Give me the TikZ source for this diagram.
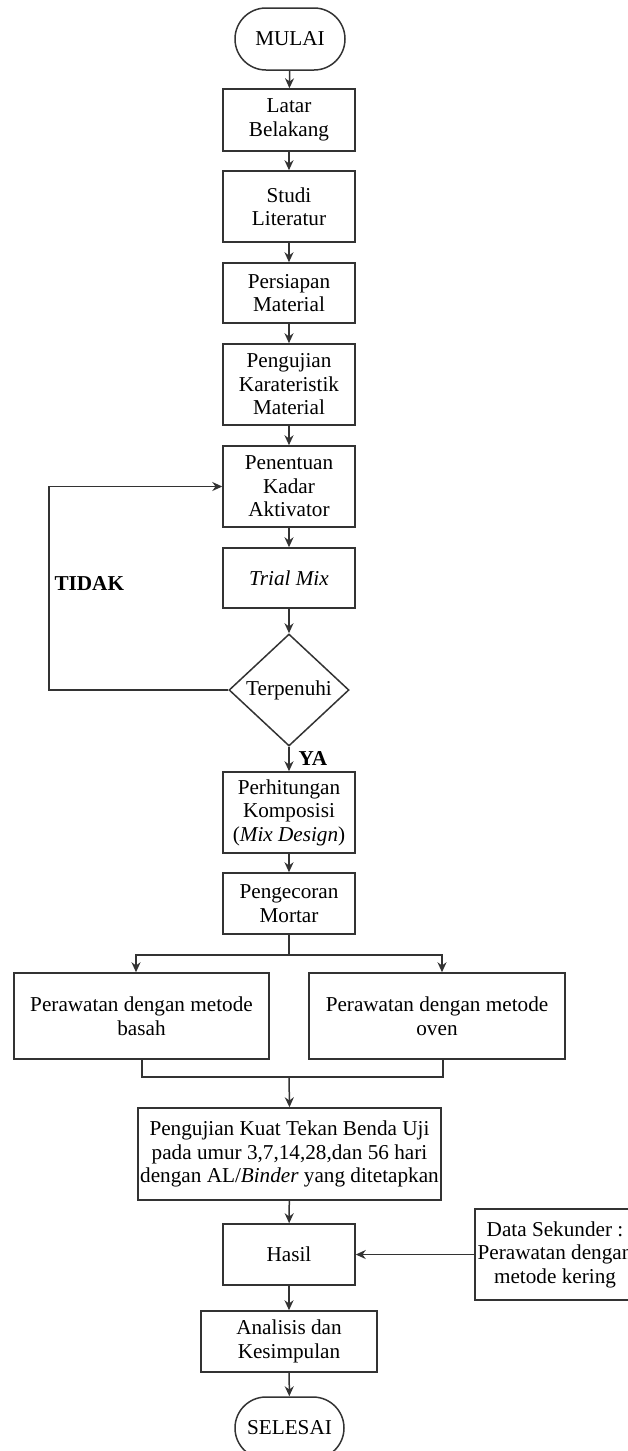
\documentclass[tikz,border=0pt]{standalone}
\usepackage{fontspec}
\setmainfont{Liberation Serif}
\usetikzlibrary{shapes.geometric,shapes.misc,arrows.meta}
\begin{document}
\begin{tikzpicture}[x=1pt,y=-1pt,
  every node/.style={font=\fontsize{21.2}{23.5}\selectfont, text=black},
  line/.style={draw=black!80, line width=1.5pt},
  arr/.style={line, -{Stealth[length=10pt,width=9pt]}},
  box/.style={line, rectangle, align=center, inner sep=0pt, minimum width=132pt},
  term/.style={line, rounded rectangle, inner sep=0pt, minimum width=110pt, minimum height=62pt},
  dec/.style={line, diamond, inner sep=0pt, minimum width=120pt, minimum height=112pt},
  lab/.style={font=\fontsize{21.2}{23.5}\selectfont\bfseries}
]
\useasboundingbox (0,0) rectangle (628,1451);

\node[term] (mulai) at (290,39) {MULAI};
\node[box, minimum height=62pt] (latar) at (289,120) {Latar\\Belakang};
\node[box, minimum height=71pt] (studi) at (289,206.5) {Studi\\Literatur};
\node[box, minimum height=60pt] (persiapan) at (289,293) {Persiapan\\Material};
\node[box, minimum height=81pt] (pengk) at (289,384.5) {Pengujian\\Karateristik\\Material};
\node[box, minimum height=81pt] (penentuan) at (289,486.5) {Penentuan\\Kadar\\Aktivator};
\node[box, minimum height=60pt] (trial) at (289,578) {\textit{Trial Mix}};
\node[dec] (terpenuhi) at (289,690) {Terpenuhi};
\node[box, minimum height=81pt] (perhitungan) at (289,812.5) {Perhitungan\\Komposisi\\(\textit{Mix Design})};
\node[box, minimum height=61pt] (pengecoran) at (289,903.5) {Pengecoran\\Mortar};
\node[box, minimum width=255pt, minimum height=86pt] (basah) at (141.5,1016) {Perawatan dengan metode\\basah};
\node[box, minimum width=256pt, minimum height=86pt] (oven) at (437,1016) {Perawatan dengan metode\\oven};
\node[box, minimum width=303pt, minimum height=92pt] (uji) at (289.5,1154) {Pengujian Kuat Tekan Benda Uji\\pada umur 3,7,14,28,dan 56 hari\\dengan AL/\textit{Binder} yang ditetapkan};
\node[box, minimum height=61pt] (hasil) at (289,1254.5) {Hasil};
\node[box, minimum width=160pt, minimum height=91pt] (data) at (555,1254.5) {Data Sekunder :\\Perawatan dengan\\metode kering};
\node[box, minimum width=176pt, minimum height=61pt] (analisis) at (289,1341.5) {Analisis dan\\Kesimpulan};
\node[term, minimum width=109pt] (selesai) at (289.5,1428) {SELESAI};

\node[lab, anchor=west] (tidak) at (51,584) {TIDAK};
\node[lab, anchor=west] (ya) at (295,758) {YA};

\coordinate (loopA) at (49,690);
\coordinate (loopB) at (49,486.5);
\coordinate (split) at (289,955);
\coordinate (splitL) at (136,955);
\coordinate (splitR) at (442,955);
\coordinate (joinL) at (142,1077);
\coordinate (joinR) at (443,1077);
\coordinate (join) at (289,1077);

\draw[arr] (mulai) -- (latar);
\draw[arr] (latar) -- (studi);
\draw[arr] (studi) -- (persiapan);
\draw[arr] (persiapan) -- (pengk);
\draw[arr] (pengk) -- (penentuan);
\draw[arr] (penentuan) -- (trial);
\draw[arr] (trial) -- (terpenuhi);
\draw[arr] (terpenuhi.west) -- (loopA) -- (loopB) -- (penentuan.west);
\draw[arr] (terpenuhi) -- (perhitungan);
\draw[arr] (perhitungan) -- (pengecoran);
\draw[line] (pengecoran.south) -- (split);
\draw[arr] (split) -- (splitL) -- (splitL |- basah.north);
\draw[arr] (split) -- (splitR) -- (splitR |- oven.north);
\draw[line] (joinL |- basah.south) -- (joinL) -- (joinR) -- (joinR |- oven.south);
\draw[arr] (join) -- (uji.north);
\draw[arr] (uji) -- (hasil);
\draw[arr] (data) -- (hasil);
\draw[arr] (hasil) -- (analisis);
\draw[arr] (analisis) -- (selesai);
\end{tikzpicture}
\end{document}
